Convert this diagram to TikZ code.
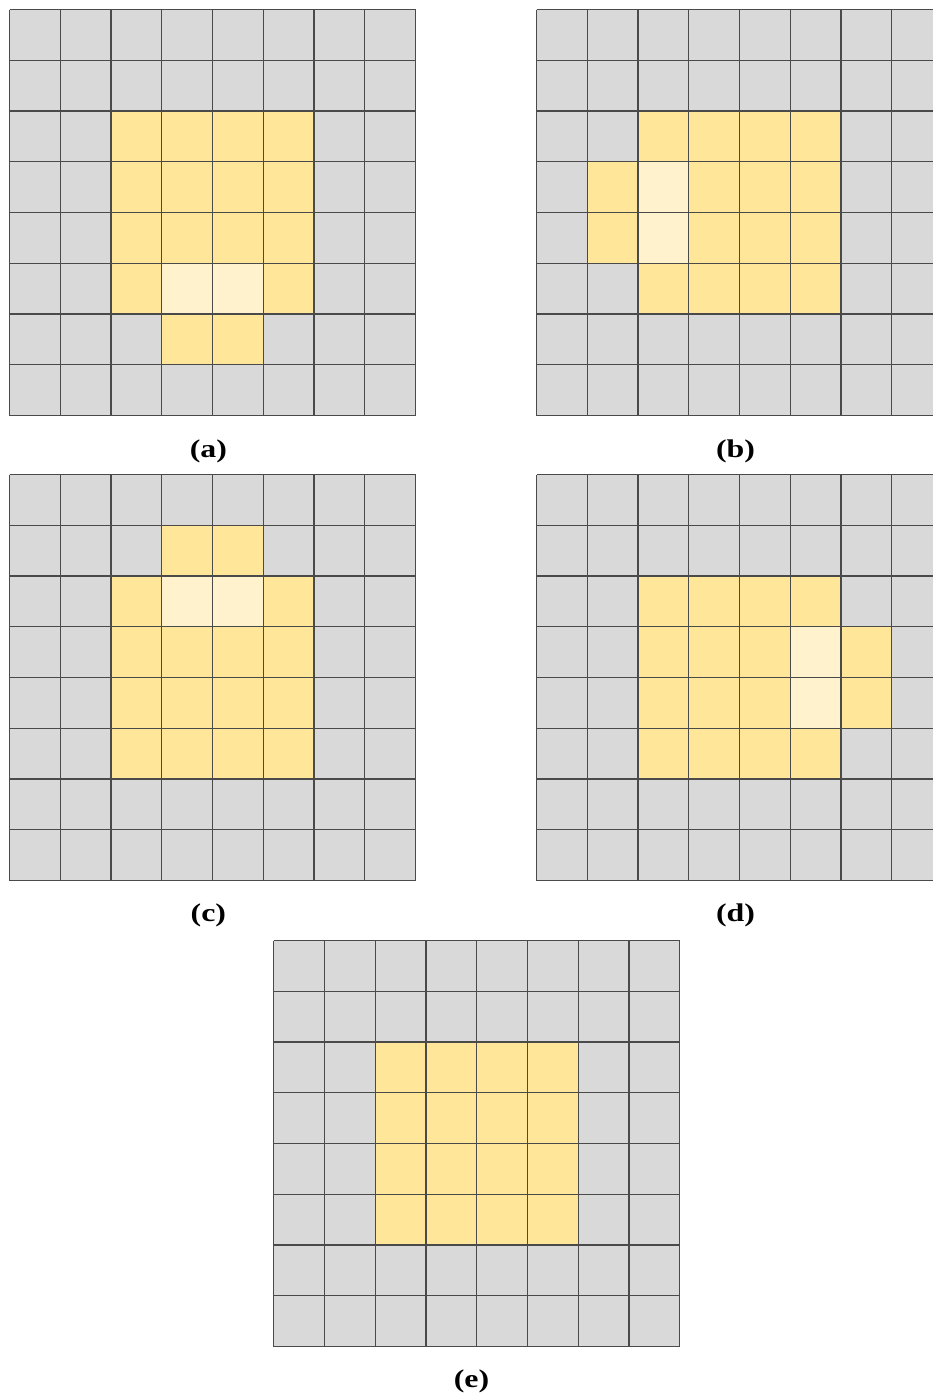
\documentclass[tikz,border=0pt]{standalone}
\usepackage{fontspec}
\usepackage{graphicx}
\setmainfont{Liberation Serif}
\definecolor{cellgray}{HTML}{D9D9D9}
\definecolor{cellyellow}{HTML}{FFE699}
\definecolor{celllight}{HTML}{FFF2CC}
\definecolor{linegray}{HTML}{4A4A4A}
\tikzset{
  gcell/.style={fill=cellgray},
  ycell/.style={fill=cellyellow},
  lcell/.style={fill=celllight},
  gridline/.style={draw=linegray, line width=1.1pt},
  sublabel/.style={font=\fontsize{25.5}{30}\selectfont\bfseries, inner sep=0pt, anchor=center}
}
\newcommand{\cellsz}{50.75}
\newcommand{\gridbase}{\fill[gcell] (0,0) rectangle (406,406);}
% #1 = style, #2 = list of cells col/row
\newcommand{\cellfill}[2]{%
  \foreach \c/\r in {#2} {\fill[#1] (\c*\cellsz,\r*\cellsz) rectangle ++(\cellsz,\cellsz);}}
\newcommand{\gridlines}{%
  \foreach \i in {0,...,8} {
    \draw[gridline] (\i*\cellsz,0) -- (\i*\cellsz,406);
    \draw[gridline] (0,\i*\cellsz) -- (406,\i*\cellsz);
  }}
\newcommand{\lab}[1]{\scalebox{1.25}[1]{#1}}
\begin{document}
\begin{tikzpicture}[x=1pt,y=-1pt]
\useasboundingbox (0,0) rectangle (933,1398);
\begin{scope}
\clip (0,0) rectangle (933,1398);
% (a)
\begin{scope}[shift={(9.5,9.5)}]
\gridbase
\cellfill{ycell}{2/2,3/2,4/2,5/2,2/3,3/3,4/3,5/3,2/4,3/4,4/4,5/4,2/5,5/5,3/6,4/6}
\cellfill{lcell}{3/5,4/5}
\gridlines
\end{scope}
% (b)
\begin{scope}[shift={(536.5,9.5)}]
\gridbase
\cellfill{ycell}{2/2,3/2,4/2,5/2,3/3,4/3,5/3,3/4,4/4,5/4,2/5,3/5,4/5,5/5,1/3,1/4}
\cellfill{lcell}{2/3,2/4}
\gridlines
\end{scope}
% (c)
\begin{scope}[shift={(9.5,474.5)}]
\gridbase
\cellfill{ycell}{3/1,4/1,2/2,5/2,2/3,3/3,4/3,5/3,2/4,3/4,4/4,5/4,2/5,3/5,4/5,5/5}
\cellfill{lcell}{3/2,4/2}
\gridlines
\end{scope}
% (d)
\begin{scope}[shift={(536.5,474.5)}]
\gridbase
\cellfill{ycell}{2/2,3/2,4/2,5/2,2/3,3/3,4/3,6/3,2/4,3/4,4/4,6/4,2/5,3/5,4/5,5/5}
\cellfill{lcell}{5/3,5/4}
\gridlines
\end{scope}
% (e)
\begin{scope}[shift={(273.7,940.5)}]
\gridbase
\cellfill{ycell}{2/2,3/2,4/2,5/2,2/3,3/3,4/3,5/3,2/4,3/4,4/4,5/4,2/5,3/5,4/5,5/5}
\gridlines
\end{scope}
\end{scope}
\node[sublabel] (la) at (208.4,451) {\lab{(a)}};
\node[sublabel] (lb) at (735.5,451) {\lab{(b)}};
\node[sublabel] (lc) at (208.4,915.5) {\lab{(c)}};
\node[sublabel] (ld) at (735.5,915.5) {\lab{(d)}};
\node[sublabel] (le) at (471.5,1381.5) {\lab{(e)}};
\end{tikzpicture}
\end{document}
